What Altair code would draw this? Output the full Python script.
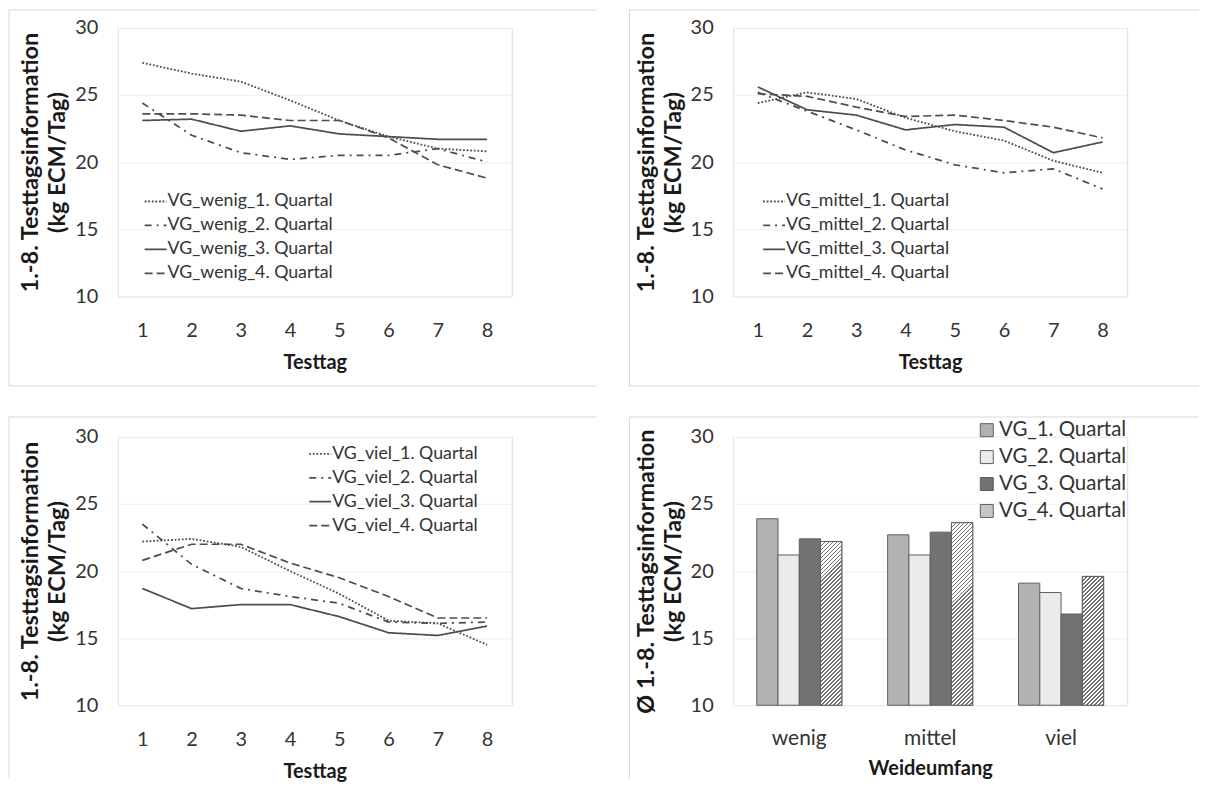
import altair as alt
import pandas as pd

# ---------------- data ----------------
testtag = [1, 2, 3, 4, 5, 6, 7, 8]
quartale = ["1. Quartal", "2. Quartal", "3. Quartal", "4. Quartal"]

wenig_q1 = [27.4, 26.6, 26.0, 24.6, 23.1, 21.9, 21.0, 20.8]
wenig_q2 = [24.4, 22.0, 20.7, 20.2, 20.5, 20.5, 21.0, 20.0]
wenig_q3 = [23.1, 23.2, 22.3, 22.7, 22.1, 21.9, 21.7, 21.7]
wenig_q4 = [23.6, 23.6, 23.5, 23.1, 23.1, 21.8, 19.8, 18.8]

mittel_q1 = [24.4, 25.2, 24.7, 23.3, 22.3, 21.6, 20.1, 19.2]
mittel_q2 = [25.2, 23.8, 22.4, 20.9, 19.8, 19.2, 19.5, 18.0]
mittel_q3 = [25.6, 23.9, 23.5, 22.4, 22.8, 22.6, 20.7, 21.5]
mittel_q4 = [25.1, 24.9, 24.1, 23.4, 23.5, 23.1, 22.6, 21.8]

viel_q1 = [22.2, 22.4, 21.8, 20.0, 18.3, 16.3, 16.1, 14.5]
viel_q2 = [23.5, 20.5, 18.7, 18.1, 17.6, 16.2, 16.1, 16.2]
viel_q3 = [18.7, 17.2, 17.5, 17.5, 16.6, 15.4, 15.2, 15.9]
viel_q4 = [20.8, 22.0, 22.0, 20.6, 19.5, 18.1, 16.5, 16.5]

weideumfang = ["wenig", "mittel", "viel"]
bar_q1 = [23.9, 22.7, 19.1]
bar_q2 = [21.2, 21.2, 18.4]
bar_q3 = [22.4, 22.9, 16.8]
bar_q4 = [22.2, 23.6, 19.6]

y_ticks = [10, 15, 20, 25, 30]
y_title_line = ["1.-8. Testtagsinformation", "(kg ECM/Tag)"]
y_title_bar = ["Ø 1.-8. Testtagsinformation", "(kg ECM/Tag)"]

# ---------------- style ----------------
FONT = "Lato"
LINE = "#4d4d4d"
GRID = "#eeeeee"
BORDER = "#d9d9d9"
TXT = "#333333"
TITLE = "#1a1a1a"
DASHES = [[1.8, 1.8], [7, 5, 2, 5], [1, 0], [8, 4]]
WIDTHS = [1.8, 1.7, 1.7, 2.1]

PW, PH = 395, 269
LAB = 20
YTFS = 23.5
XTFS = 20


def border_layers(left, right, top, bottom, draw_bottom):
    d = pd.DataFrame({"k": [0]})
    b = alt.Chart(d)
    layers = [
        b.mark_rule(color=BORDER, strokeWidth=1).encode(
            x=alt.value(left), x2=alt.value(right), y=alt.value(top)),
        b.mark_rule(color=BORDER, strokeWidth=1).encode(
            x=alt.value(left), y=alt.value(top), y2=alt.value(bottom)),
    ]
    if draw_bottom:
        layers.append(b.mark_rule(color=BORDER, strokeWidth=1).encode(
            x=alt.value(left), x2=alt.value(right), y=alt.value(bottom)))
    return layers


def y_axis(title):
    return alt.Axis(values=y_ticks, title=title, grid=True, gridColor=GRID,
                    gridWidth=1, domain=False, ticks=False, tickSize=0,
                    labelPadding=20, labelFontSize=LAB, labelColor=TXT,
                    labelFont=FONT, titleFont=FONT, titleFontSize=YTFS,
                    titleFontWeight="bold", titleColor=TITLE,
                    titleLineHeight=27, titlePadding=5)


def line_panel(prefix, series, lx, ly, brd):
    names = [f"VG_{prefix}_{q}" for q in quartale]
    rows = []
    for name, vals in zip(names, series):
        for t, v in zip(testtag, vals):
            rows.append({"Testtag": t, "Wert": v, "Reihe": name})
    df = pd.DataFrame(rows)
    lines = alt.Chart(df).mark_line(color=LINE).encode(
        x=alt.X("Testtag:Q",
                scale=alt.Scale(domain=[0.5, 8.5], nice=False, zero=False),
                axis=alt.Axis(values=testtag, title="Testtag", grid=False,
                              domain=False, ticks=False, tickSize=0,
                              labelPadding=24, labelFontSize=LAB,
                              labelColor=TXT, labelFont=FONT, titleFont=FONT,
                              titleFontSize=XTFS, titleFontWeight="bold",
                              titleColor=TITLE, titlePadding=12)),
        y=alt.Y("Wert:Q",
                scale=alt.Scale(domain=[10, 30], nice=False, zero=False),
                axis=y_axis(y_title_line)),
        strokeDash=alt.StrokeDash(
            "Reihe:N", scale=alt.Scale(domain=names, range=DASHES),
            legend=alt.Legend(title=None, orient="none", legendX=lx,
                              legendY=ly, symbolType="stroke",
                              symbolSize=484, symbolStrokeColor=LINE,
                              symbolStrokeWidth=1.7, labelFontSize=17.8,
                              labelColor=TXT, labelFont=FONT, rowPadding=3,
                              labelOffset=0, labelLimit=0)),
        strokeWidth=alt.StrokeWidth(
            "Reihe:N", scale=alt.Scale(domain=names, range=WIDTHS),
            legend=None),
    )
    return alt.layer(*border_layers(*brd), lines).properties(width=PW, height=PH)


def make_hatch(w, h, period=4.0, dark_frac=0.42, dark="#737373"):
    t = h / w
    denom = w * (1 + t * t)
    dp = period / denom
    n = int((w + h) / period) + 3
    stops = []
    for k in range(n):
        a = k * dp
        b = a + dark_frac * dp
        c = (k + 1) * dp
        if c >= 1:
            break
        stops += [
            {"offset": round(a, 6), "color": dark},
            {"offset": round(b, 6), "color": dark},
            {"offset": round(b, 6), "color": "#ffffff"},
            {"offset": round(c, 6), "color": "#ffffff"},
        ]
    stops.append({"offset": 1, "color": "#ffffff"})
    return {"gradient": "linear", "x1": 0, "y1": 0, "x2": 1, "y2": t,
            "stops": stops}


def bar_panel(brd):
    qlabels = [f"VG_{q}" for q in quartale]
    rows = []
    for q, vals in zip(qlabels, [bar_q1, bar_q2, bar_q3, bar_q4]):
        for cat, v in zip(weideumfang, vals):
            rows.append({"Weideumfang": cat, "Quartal": q, "Wert": v})
    df = pd.DataFrame(rows)
    pin, pout = 0.35, 0.18
    x_enc = alt.X("Weideumfang:N",
                  scale=alt.Scale(domain=weideumfang, paddingInner=pin,
                                  paddingOuter=pout),
                  axis=alt.Axis(title="Weideumfang", labelAngle=0,
                                domain=False, ticks=False, tickSize=0,
                                labelPadding=22, labelFontSize=21,
                                labelColor=TXT, labelFont=FONT,
                                titleFont=FONT, titleFontSize=XTFS,
                                titleFontWeight="bold", titleColor=TITLE,
                                titlePadding=10))
    xo_enc = alt.XOffset("Quartal:N",
                         scale=alt.Scale(domain=qlabels, paddingInner=0,
                                         paddingOuter=0))
    y_enc = alt.Y("Wert:Q",
                  scale=alt.Scale(domain=[10, 30], nice=False, zero=False),
                  axis=y_axis(y_title_bar))
    bars = alt.Chart(df).mark_bar(stroke="#5e5e5e", strokeWidth=1).encode(
        x=x_enc, xOffset=xo_enc, y=y_enc, y2=alt.datum(10),
        color=alt.Color("Quartal:N",
                        scale=alt.Scale(domain=qlabels,
                                        range=["#b2b2b2", "#ebebeb",
                                               "#747171", "#c6c6c6"]),
                        legend=alt.Legend(title=None, orient="none",
                                          legendX=244, legendY=-17,
                                          symbolType="square",
                                          symbolSize=169,
                                          symbolStrokeColor="#5e5e5e",
                                          symbolStrokeWidth=1,
                                          labelFontSize=20.5, labelColor=TXT,
                                          labelFont=FONT, rowPadding=6,
                                          labelOffset=2, labelLimit=0)))
    step = PW / (3 - pin + 2 * pout)
    bw = step * (1 - pin) / 4
    hatch_layers = []
    for cat, v in zip(weideumfang, bar_q4):
        h = (v - 10) / 20 * PH
        hatch_layers.append(
            alt.Chart(df).transform_filter(
                (alt.datum.Quartal == qlabels[3]) & (alt.datum.Weideumfang == cat)
            ).mark_bar(fill=make_hatch(bw, h), stroke="#5e5e5e",
                       strokeWidth=1).encode(x=x_enc, xOffset=xo_enc, y=y_enc,
                                             y2=alt.datum(10)))
    return alt.layer(*border_layers(*brd), bars, *hatch_layers).properties(
        width=PW, height=PH)


p1 = line_panel("wenig", [wenig_q1, wenig_q2, wenig_q3, wenig_q4], 26, 162,
                (-109, 480, -18, 359, True))
p2 = line_panel("mittel", [mittel_q1, mittel_q2, mittel_q3, mittel_q4], 29, 162,
                (-104, 467, -18, 359, True))
p3 = line_panel("viel", [viel_q1, viel_q2, viel_q3, viel_q4], 191, 5,
                (-109, 480, -20, 343, False))
p4 = bar_panel((-104, 467, -20, 343, False))

RES = dict(strokeDash="independent", strokeWidth="independent",
           color="independent", x="independent", y="independent",
           xOffset="independent")
LRES = dict(strokeDash="independent", color="independent")

top = alt.hconcat(p1, p2, spacing=31).resolve_scale(**RES).resolve_legend(**LRES)
bot = alt.hconcat(p3, p4, spacing=31).resolve_scale(**RES).resolve_legend(**LRES)

chart = alt.vconcat(top, bot, spacing=29).resolve_scale(**RES).resolve_legend(
    **LRES).properties(padding=0).configure_view(strokeWidth=0).configure(
    font=FONT, background="white")

chart.save("out.html", embed_options={"renderer": "svg", "actions": False})
